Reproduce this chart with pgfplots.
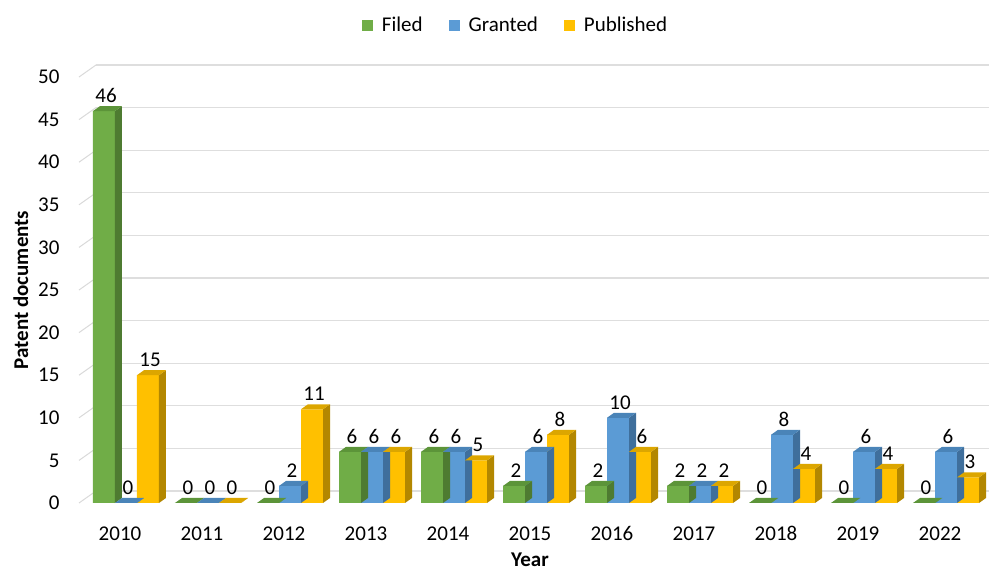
\documentclass[border=0pt]{standalone}
\usepackage{fontspec}
\setmainfont{Carlito}
\usepackage{pgfplots}
\usepackage{pgfplotstable}
\pgfplotsset{compat=1.18}

\definecolor{cgreen}{HTML}{70AD47}
\definecolor{cgreenT}{HTML}{5C9439}
\definecolor{cgreenS}{HTML}{4E7B31}
\definecolor{cblue}{HTML}{5B9BD5}
\definecolor{cblueT}{HTML}{4A84B8}
\definecolor{cblueS}{HTML}{3F6F9C}
\definecolor{cyel}{HTML}{FFC000}
\definecolor{cyelT}{HTML}{DCA600}
\definecolor{cyelS}{HTML}{B38700}

% 3D top and side faces of a bar, drawn at the data point (x, value)
\newcommand\defbarmark[4]{%
\pgfdeclareplotmark{#1}{%
  \pgfmathsetmacro\hh{\rawy*8.52}%
  \pgfmathsetmacro\xl{#2-11}\pgfmathsetmacro\xr{#2+11}%
  \pgfmathsetmacro\xlb{#2-4}\pgfmathsetmacro\xrb{#2+18}%
  \pgfmathsetmacro\yb{5-\hh}\pgfmathsetmacro\yf{-\hh}%
  \pgfsetfillcolor{#4}%
  \pgfpathmoveto{\pgfqpoint{\xr pt}{0pt}}%
  \pgfpathlineto{\pgfqpoint{\xrb pt}{5pt}}%
  \pgfpathlineto{\pgfqpoint{\xrb pt}{\yb pt}}%
  \pgfpathlineto{\pgfqpoint{\xr pt}{\yf pt}}%
  \pgfpathclose\pgfusepath{fill}%
  \pgfsetfillcolor{#3}%
  \pgfpathmoveto{\pgfqpoint{\xl pt}{0pt}}%
  \pgfpathlineto{\pgfqpoint{\xr pt}{0pt}}%
  \pgfpathlineto{\pgfqpoint{\xrb pt}{5pt}}%
  \pgfpathlineto{\pgfqpoint{\xlb pt}{5pt}}%
  \pgfpathclose\pgfusepath{fill}%
}}
\defbarmark{greenthreed}{-16}{cgreenT}{cgreenS}
\defbarmark{bluethreed}{6}{cblueT}{cblueS}
\defbarmark{yelthreed}{28}{cyelT}{cyelS}

\pgfplotstableread{
x f g p
0 46 0 15
1 0 0 0
2 0 2 11
3 6 6 6
4 6 6 5
5 2 6 8
6 2 10 6
7 2 2 2
8 0 8 4
9 0 6 4
10 0 6 3
}\data

\begin{document}
\begin{tikzpicture}
\useasboundingbox (-79pt,-67pt) rectangle (910pt,503pt);
\begin{axis}[
  at={(0,0)}, anchor=south west,
  scale only axis, width=902pt, height=426pt,
  font=\fontsize{21}{25}\selectfont,
  /pgf/number format/assume math mode=true,
  xmin=-0.5, xmax=10.5, ymin=0, ymax=50,
  xtick=data,
  xticklabels={2010,2011,2012,2013,2014,2015,2016,2017,2018,2019,2022},
  ytick={0,5,...,50},
  axis line style={draw=none},
  major tick length=0pt,
  yticklabel style={xshift=-16pt},
  xticklabel style={yshift=-20pt},
  ymajorgrids,
  major grid style={draw=black!13, line width=1.2pt, xshift=17pt, yshift=12pt},
  clip=false,
  xlabel={\textbf{Year}},
  xlabel style={yshift=-5pt},
  ylabel={\textbf{Patent documents}},
  ylabel style={yshift=3pt},
  legend style={draw=none, at={(0.484,1.122)}, anchor=center,
    legend columns=-1, font=\fontsize{21}{25}\selectfont,
    /tikz/every odd column/.append style={column sep=7pt},
    /tikz/every even column/.append style={column sep=24pt}},
  legend image code/.code={\fill[#1] (0pt,-5.5pt) rectangle (11pt,5.5pt);},
  every node near coord/.append style={anchor=south, yshift=5pt, text=black, font=\fontsize{21}{25}\selectfont},
]
\pgfplotsinvokeforeach{0,5,...,50}{
  \draw[black!15, line width=1pt] (axis cs:-0.5,#1) -- ++(17pt,12pt);
}
\addplot[ybar, bar width=22pt, bar shift=-16pt, fill=cgreen, draw=none,
  nodes near coords, nodes near coords style={xshift=-14pt}] table[x=x,y=f] \data;
\addlegendentry{Filed}
\addplot[only marks, mark=greenthreed, visualization depends on={rawy\as\rawy}, forget plot] table[x=x,y=f] \data;
\addplot[ybar, bar width=22pt, bar shift=6pt, fill=cblue, draw=none,
  nodes near coords, nodes near coords style={xshift=8pt}] table[x=x,y=g] \data;
\addlegendentry{Granted}
\addplot[only marks, mark=bluethreed, visualization depends on={rawy\as\rawy}, forget plot] table[x=x,y=g] \data;
\addplot[ybar, bar width=22pt, bar shift=28pt, fill=cyel, draw=none,
  nodes near coords, nodes near coords style={xshift=30pt}] table[x=x,y=p] \data;
\addlegendentry{Published}
\addplot[only marks, mark=yelthreed, visualization depends on={rawy\as\rawy}, forget plot] table[x=x,y=p] \data;
\end{axis}
\end{tikzpicture}
\end{document}
